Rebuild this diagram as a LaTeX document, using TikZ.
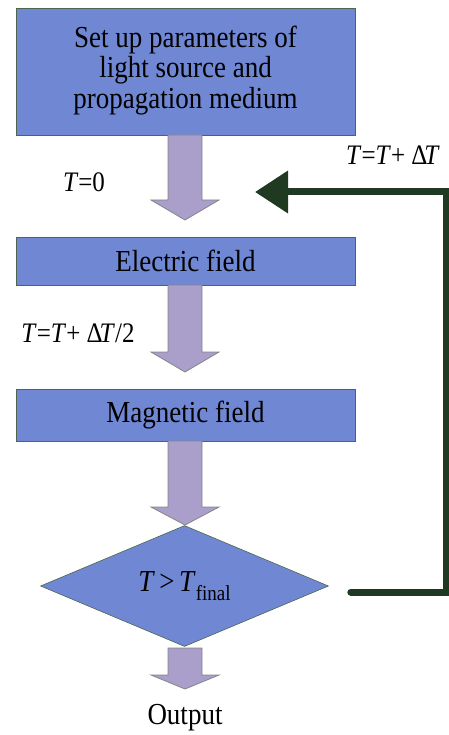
\documentclass[tikz,border=0pt]{standalone}
\usepackage{fontspec}
\usepackage{graphicx}
\setmainfont{Liberation Serif}
\usetikzlibrary{shapes.geometric,arrows.meta,calc}
\definecolor{boxfill}{HTML}{7087D3}
\definecolor{boxline}{HTML}{4E6650}
\definecolor{arrfill}{HTML}{AA9FCA}
\definecolor{arrline}{HTML}{858585}
\definecolor{loopgreen}{HTML}{1F3A20}
\newcommand\vst[1]{\scalebox{1}[1.13]{#1}}
\tikzset{
  stepbox/.style={draw=boxline, line width=0.8pt, fill=boxfill, minimum width=339pt, inner sep=0pt, align=center, font=\fontsize{27}{27}\selectfont},
  decision/.style={diamond, draw=boxline, line width=0.6pt, fill=boxfill, minimum width=288pt, minimum height=102pt, inner sep=0pt, font=\fontsize{27}{31}\selectfont},
  lbl/.style={inner sep=0pt, font=\fontsize{25}{30}\selectfont},
  blockarr/.style={draw=arrline, line width=0.8pt, fill=arrfill, line join=miter},
  loop/.style={draw=loopgreen, line width=7pt, line join=miter}
}
% #1 start point, #2 shaft length, #3 head length
\newcommand\blockarrow[3]{%
  \path[blockarr] ($(#1)+(-17,0)$) -- ++(0,#2) -- ++(-17,0) -- ++(34,#3) -- ++(34,-#3) -- ++(-17,0) -- ++(0,-#2) -- cycle;}
\begin{document}
\begin{tikzpicture}[x=1pt,y=-1pt]
\useasboundingbox (0,0) rectangle (449,735);
\node[stepbox, minimum height=127pt] (setup) at (185.5,71.5) {\vst{\begin{tabular}{@{}c@{}}Set up parameters of\\light source and\\propagation medium\end{tabular}}};
\node[stepbox, minimum height=48pt] (efield) at (185.5,261) {\vst{Electric field}};
\node[stepbox, minimum height=52pt] (mfield) at (185.5,415) {\vst{Magnetic field}};
\node[decision] (test) at (184.5,586) {\vst{\textit{T}\,>\,\textit{T}\raisebox{-0.28em}{\fontsize{19}{20}\selectfont final}}};
\node[inner sep=0pt, font=\fontsize{27}{31}\selectfont] (out) at (185,718) {\vst{Output}};
\node[lbl] (t0) at (84,182) {\vst{\textit{T}=0}};
\node[lbl] (thalf) at (78,333) {\vst{\textit{T}=\textit{T}+ Δ\kern-0.12em\textit{T}/2}};
\node[lbl] (tfull) at (393,155) {\vst{\textit{T}=\textit{T}+ Δ\kern-0.12em\textit{T}}};
% block arrows
\coordinate (a1) at (185,135);
\coordinate (a2) at (185,285);
\coordinate (a3) at (185,441);
\coordinate (a4) at (185,648);
\blockarrow{a1}{65}{20}
\blockarrow{a2}{67}{20}
\blockarrow{a3}{66}{18}
\blockarrow{a4}{27}{14}
% loop connector
\coordinate (loopstart) at ($(test.east)+(22,6)$);
\coordinate (loopend) at (255,192);
\draw[loop, line cap=round] (loopstart) -- (446,592) -- (446,192) -- (290,192);
\draw[loop, -{Triangle[length=33pt,width=41pt]}] (300,192) -- (loopend);
\end{tikzpicture}
\end{document}
